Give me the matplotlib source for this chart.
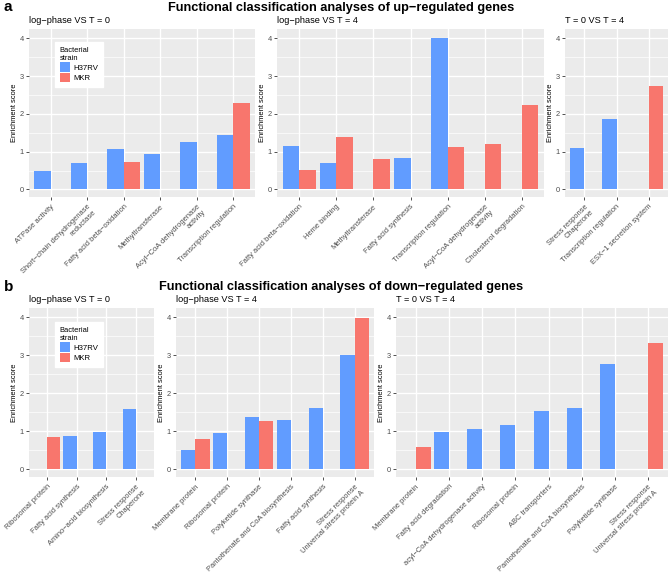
"""Functional classification bar panels (up/down-regulated genes), ggplot-like look."""
import numpy as np
import matplotlib
matplotlib.use("Agg")
import matplotlib.pyplot as plt
from matplotlib.patches import Patch

plt.rcParams["font.family"] = ["Liberation Sans", "DejaVu Sans"]

BLUE = "#619CFF"
RED = "#F8766D"
PANEL_BG = "#EBEBEB"
NA = np.nan

# ---- data: up-regulated ----
up_t0_cats = ["ATPase activity", "Short−chain dehydrogenase\nreductase",
              "Fatty acid beta−oxidation", "Methyltransferase",
              "Acyl−CoA dehydrogenase\nactivity", "Transcription regulation"]
up_t0_h37rv = [0.50, 0.70, 1.07, 0.95, 1.25, 1.43]
up_t0_mkr = [NA, NA, 0.74, NA, NA, 2.28]

up_t4_cats = ["Fatty acid beta−oxidation", "Heme binding", "Methyltransferase",
              "Fatty acid synthesis", "Transcription regulation",
              "Acyl−CoA dehydrogenase\nactivity", "Cholesterol degradation"]
up_t4_h37rv = [1.15, 0.69, NA, 0.83, 4.02, NA, NA]
up_t4_mkr = [0.51, 1.40, 0.80, NA, 1.12, 1.21, 2.23]

up_04_cats = ["Stress response\nChaperone", "Transcription regulation",
              "ESX−1 secretion system"]
up_04_h37rv = [1.10, 1.87, NA]
up_04_mkr = [NA, NA, 2.73]

# ---- data: down-regulated ----
dn_t0_cats = ["Ribosomal protein", "Fatty acid synthesis",
              "Amino−acid biosynthesis", "Stress response\nChaperone"]
dn_t0_h37rv = [NA, 0.88, 0.98, 1.59]
dn_t0_mkr = [0.85, NA, NA, NA]

dn_t4_cats = ["Membrane protein", "Ribosomal protein", "Polyketide synthase",
              "Pantothenate and CoA biosynthesis", "Fatty acid synthesis",
              "Stress response\nUniversal stress protein A"]
dn_t4_h37rv = [0.52, 0.96, 1.39, 1.29, 1.61, 3.01]
dn_t4_mkr = [0.79, NA, 1.27, NA, NA, 3.99]

dn_04_cats = ["Membrane protein", "Fatty acid degradation",
              "acyl−CoA dehydrogenase activity", "Ribosomal protein",
              "ABC transporters", "Pantothenate and CoA biosynthesis",
              "Polyketide synthase", "Stress response\nUniversal stress protein A"]
dn_04_h37rv = [NA, 0.99, 1.06, 1.17, 1.54, 1.62, 2.77, NA]
dn_04_mkr = [0.58, NA, NA, NA, NA, NA, NA, 3.32]

W, H = 669, 572
fig = plt.figure(figsize=(W / 100, H / 100), dpi=100)


def add_panel(x0, y0, x1, y1):
    return fig.add_axes([x0 / W, 1 - y1 / H, (x1 - x0) / W, (y1 - y0) / H])


def draw_panel(ax, cats, h37rv, mkr, subtitle, px_width):
    n = len(cats)
    xs = np.arange(n)
    h = np.array(h37rv, dtype=float)
    m = np.array(mkr, dtype=float)
    ok_h = ~np.isnan(h)
    ok_m = ~np.isnan(m)
    ax.bar(xs[ok_h] - 0.225, h[ok_h], width=0.45, color=BLUE, zorder=3)
    ax.bar(xs[ok_m] + 0.225, m[ok_m], width=0.45, color=RED, zorder=3)

    ax.set_facecolor(PANEL_BG)
    for s in ax.spines.values():
        s.set_visible(False)
    ax.set_xlim(-0.6, n - 0.4)
    ax.set_ylim(-0.2, 4.25)
    ax.set_yticks([0, 1, 2, 3, 4])
    ax.set_yticks([0.5, 1.5, 2.5, 3.5], minor=True)
    ax.set_xticks(xs)
    ax.set_xticklabels(cats, rotation=45, ha="right", va="top",
                       rotation_mode="anchor", multialignment="right",
                       fontsize=5.4, color="#4D4D4D")
    ax.tick_params(axis="y", labelsize=5.4, labelcolor="#4D4D4D",
                   color="#333333", length=2.5, width=0.6, pad=1)
    ax.tick_params(axis="x", color="#333333", length=2.5, width=0.6, pad=2)
    ax.tick_params(axis="y", which="minor", length=0)
    ax.grid(True, which="major", color="white", linewidth=1.0, zorder=0)
    ax.grid(True, which="minor", axis="y", color="white", linewidth=0.5, zorder=0)
    ax.set_axisbelow(True)
    ax.set_ylabel("Enrichment score", fontsize=5.4, color="black")
    ax.yaxis.set_label_coords(-11 / px_width, 0.5)
    ax.set_title(subtitle, loc="left", fontsize=6.6, pad=4)


def add_legend(ax, x, y):
    handles = [Patch(facecolor=BLUE, label="H37RV"),
               Patch(facecolor=RED, label="MKR")]
    leg = ax.legend(handles=handles, title="Bacterial\nstrain",
                    loc="upper left", bbox_to_anchor=(x, y), borderaxespad=0,
                    fontsize=5.6, title_fontsize=5.4, frameon=True,
                    fancybox=False, edgecolor="white", facecolor="white",
                    framealpha=1, handlelength=1.3, handleheight=1.5,
                    handletextpad=0.5, labelspacing=0.1, borderpad=0.6,
                    alignment="left")
    leg.set_zorder(5)


# top row
ax = add_panel(29, 29, 255, 197)
draw_panel(ax, up_t0_cats, up_t0_h37rv, up_t0_mkr, "log−phase VS T = 0", 226)
add_legend(ax, 0.115, 0.923)
ax = add_panel(277, 29, 544, 197)
draw_panel(ax, up_t4_cats, up_t4_h37rv, up_t4_mkr, "log−phase VS T = 4", 267)
ax = add_panel(565, 29, 668, 197)
draw_panel(ax, up_04_cats, up_04_h37rv, up_04_mkr, "T = 0 VS T = 4", 103)

# bottom row
ax = add_panel(29, 308, 154, 477)
draw_panel(ax, dn_t0_cats, dn_t0_h37rv, dn_t0_mkr, "log−phase VS T = 0", 125)
add_legend(ax, 0.208, 0.917)
ax = add_panel(176, 308, 374, 477)
draw_panel(ax, dn_t4_cats, dn_t4_h37rv, dn_t4_mkr, "log−phase VS T = 4", 198)
ax = add_panel(396, 308, 668, 477)
draw_panel(ax, dn_04_cats, dn_04_h37rv, dn_04_mkr, "T = 0 VS T = 4", 272)

fig.text(341 / W, 1 - 8 / H, "Functional classification analyses of up−regulated genes",
         ha="center", va="center", fontsize=9.2, fontweight="bold")
fig.text(341 / W, 1 - 287 / H, "Functional classification analyses of down−regulated genes",
         ha="center", va="center", fontsize=9.2, fontweight="bold")
fig.text(4 / W, 1 - 7 / H, "a", ha="left", va="center", fontsize=11, fontweight="bold")
fig.text(4 / W, 1 - 287 / H, "b", ha="left", va="center", fontsize=11, fontweight="bold")

fig.savefig("out.png", dpi=100)
